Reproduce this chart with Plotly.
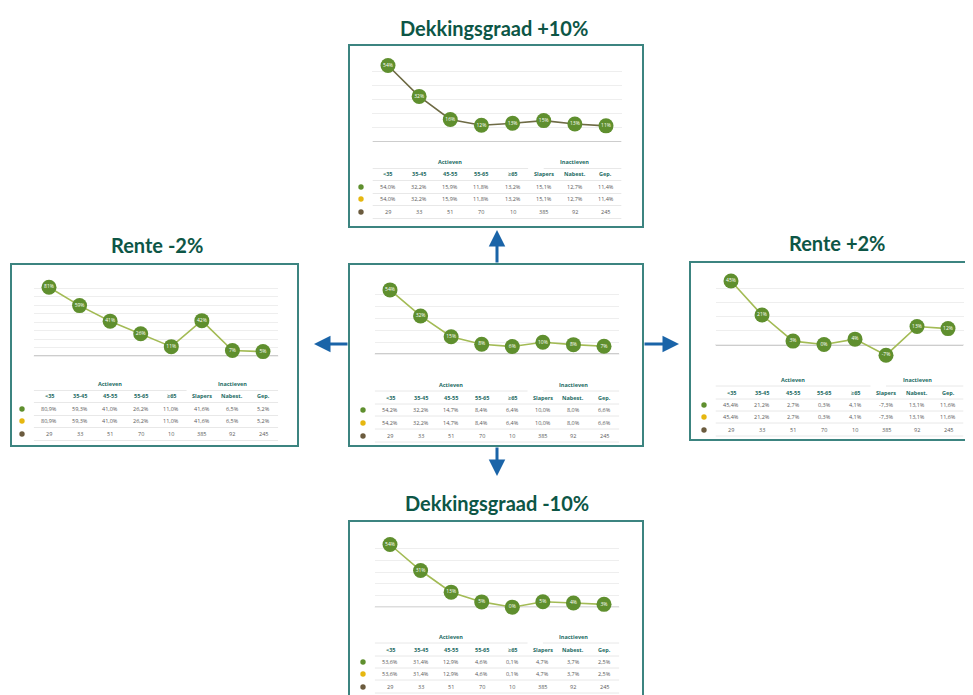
import math
import plotly.graph_objects as go

W, H = 973, 695
OFF = 8  # body-marge van de html-pagina

# categorieën en aantallen (zelfde in alle scenario's)
categories = ["<35", "35-45", "45-55", "55-65", "≥65", "Slapers", "Nabest.", "Gep."]
group_labels = ["Actieven", "Inactieven"]
counts = [29, 33, 51, 70, 10, 385, 92, 245]

# scenario's (percentages)
dekking_plus_10 = [54.0, 32.2, 15.9, 11.8, 13.2, 15.1, 12.7, 11.4]
basis = [54.2, 32.2, 14.7, 8.4, 6.4, 10.0, 8.0, 6.6]
rente_min_2 = [80.9, 59.3, 41.0, 26.2, 11.0, 41.6, 6.5, 5.2]
rente_plus_2 = [45.4, 21.2, 2.7, 0.3, 4.1, -7.3, 13.1, 11.6]
dekking_min_10 = [53.6, 31.4, 12.9, 4.6, 0.1, 4.7, 3.7, 2.5]

titles = ["Dekkingsgraad +10%", "Rente -2%", "Rente +2%", "Dekkingsgraad -10%"]

GREEN = "#5f8f2e"
YELLOW = "#e6b710"
BROWN = "#6b5b3e"
BORDER = "#3c8480"
TITLE = "#0d5646"
HEAD = "#1b6b63"
ARROW = "#1a64a8"


def px(x):
    return (x - OFF) / W


def py(y):
    return 1 - (y - OFF) / H


def pct(v):
    return f"{v:.1f}%".replace(".", ",")


def label(xref, x, y, text, font):
    return dict(xref=xref, yref="paper", x=x, y=y, text=text, showarrow=False,
                xanchor="center", yanchor="middle", font=font)


# posities van de vijf panelen (pixels)
panels = [
    dict(vals=dekking_plus_10, box=(349, 45, 643, 227), xs=(388, 606),
         yr=(0, 60), ypx=(142, 57), rows=[162, 174, 187, 199, 212], line="#6e6b45"),
    dict(vals=basis, box=(349, 264, 643, 446), xs=(390, 604),
         yr=(-10, 60), ypx=(366, 283), rows=[385, 398, 410, 423, 436], line="#a3bb55"),
    dict(vals=rente_min_2, box=(11, 264, 298, 446), xs=(49, 263),
         yr=(-10, 90), ypx=(364.5, 279.5), rows=[384, 396, 409, 421, 434], line="#a3bb55"),
    dict(vals=rente_plus_2, box=(690, 262, 995, 440), xs=(731, 948),
         yr=(-10, 50), ypx=(359, 274.5), rows=[380, 393, 405, 417, 430], line="#a3bb55"),
    dict(vals=dekking_min_10, box=(349, 521, 643, 720), xs=(390, 604),
         yr=(-10, 60), ypx=(619, 537), rows=[637, 650, 662, 674, 687], line="#a3bb55"),
]

fig = go.Figure()
shapes = []
annotations = []
layout_axes = {}

for i, p in enumerate(panels, start=1):
    xa = "x" if i == 1 else f"x{i}"
    ya = "y" if i == 1 else f"y{i}"
    xkey = "xaxis" if i == 1 else f"xaxis{i}"
    ykey = "yaxis" if i == 1 else f"yaxis{i}"

    x0, x1 = p["xs"]
    step = (x1 - x0) / 7
    layout_axes[xkey] = dict(domain=[px(x0 - step / 2), px(x1 + step / 2)],
                             range=[-0.5, 7.5], visible=False, anchor=ya)
    layout_axes[ykey] = dict(domain=[py(p["ypx"][0]), py(p["ypx"][1])],
                             range=list(p["yr"]), dtick=10, showgrid=True,
                             gridcolor="#eeeeee", gridwidth=1, zeroline=False,
                             showticklabels=False, ticks="", showline=False, anchor=xa)

    # kader
    bx0, by0, bx1, by1 = p["box"]
    shapes.append(dict(type="rect", xref="paper", yref="paper",
                       x0=px(bx0), x1=px(bx1), y0=py(by1), y1=py(by0),
                       line=dict(color=BORDER, width=2), fillcolor="rgba(0,0,0,0)"))
    # nullijn
    shapes.append(dict(type="line", xref=xa, yref=ya, x0=-0.5, x1=7.5, y0=0, y1=0,
                       line=dict(color="#bcbcbc", width=1.6), layer="below"))

    fig.add_trace(go.Scatter(
        x=list(range(len(categories))), y=p["vals"],
        mode="lines+markers+text",
        text=[f"{math.floor(v + 0.5)}%" for v in p["vals"]],
        textposition="middle center",
        textfont=dict(size=5, color="white", family="Open Sans"),
        marker=dict(size=15, color=GREEN),
        line=dict(color=p["line"], width=1.6),
        xaxis=xa, yaxis=ya, cliponaxis=False, hoverinfo="skip", showlegend=False,
    ))

    # tabel
    r = p["rows"]
    hfont = dict(size=5.5, color=HEAD, family="Open Sans")
    vfont = dict(size=5.5, color="#5a5a5a", family="Open Sans")
    annotations.append(label(xa, 2, py(r[0]), "<b>" + group_labels[0] + "</b>", hfont))
    annotations.append(label(xa, 6, py(r[0]), "<b>" + group_labels[1] + "</b>", hfont))
    for j, cat in enumerate(categories):
        annotations.append(label(xa, j, py(r[1]), f"<b>{cat}</b>", hfont))
        annotations.append(label(xa, j, py(r[2]), pct(p["vals"][j]), vfont))
        annotations.append(label(xa, j, py(r[3]), pct(p["vals"][j]), vfont))
        annotations.append(label(xa, j, py(r[4]), str(counts[j]), vfont))
    dot_x = x0 - 27
    for k, col in zip([2, 3, 4], [GREEN, YELLOW, BROWN]):
        shapes.append(dict(type="circle", xref="paper", yref="paper",
                           x0=px(dot_x - 2.7), x1=px(dot_x + 2.7),
                           y0=py(r[k] + 2.7), y1=py(r[k] - 2.7),
                           fillcolor=col, line=dict(width=0)))
    # rijlijnen
    half = (r[2] - r[1]) / 2
    shapes.append(dict(type="line", xref=xa, yref="paper", x0=-0.5, x1=4.5,
                       y0=py(r[0] + half), y1=py(r[0] + half), line=dict(color="#e8e8e8", width=1)))
    shapes.append(dict(type="line", xref=xa, yref="paper", x0=5, x1=7.5,
                       y0=py(r[0] + half), y1=py(r[0] + half), line=dict(color="#e8e8e8", width=1)))
    for k in [1, 2, 3, 4]:
        yy = py(r[k] + half)
        shapes.append(dict(type="line", xref=xa, yref="paper", x0=-0.5, x1=7.5,
                           y0=yy, y1=yy, line=dict(color="#e8e8e8", width=1)))

# titels
for txt, (tx, ty) in zip(titles, [(494, 28), (157, 245), (837, 243), (497, 503)]):
    annotations.append(label("paper", px(tx), py(ty), f"<b>{txt}</b>",
                             dict(size=20, color=TITLE, family="Lato")))

# pijlen
for (tx, ty, ax, ay) in [(497, 230, 0, 34), (314, 344, 35, 0), (679, 344, -36, 0), (497, 476, 0, -30)]:
    annotations.append(dict(xref="paper", yref="paper", x=px(tx), y=py(ty), ax=ax, ay=ay,
                            text="", showarrow=True, arrowhead=2, arrowsize=1.1,
                            arrowwidth=3, arrowcolor=ARROW, standoff=0, startstandoff=0))

fig.update_layout(
    width=W, height=H,
    margin=dict(l=0, r=0, t=0, b=0),
    paper_bgcolor="white", plot_bgcolor="rgba(0,0,0,0)",
    shapes=shapes, annotations=annotations,
    showlegend=False,
    **layout_axes,
)

fig.write_html("out.html")
